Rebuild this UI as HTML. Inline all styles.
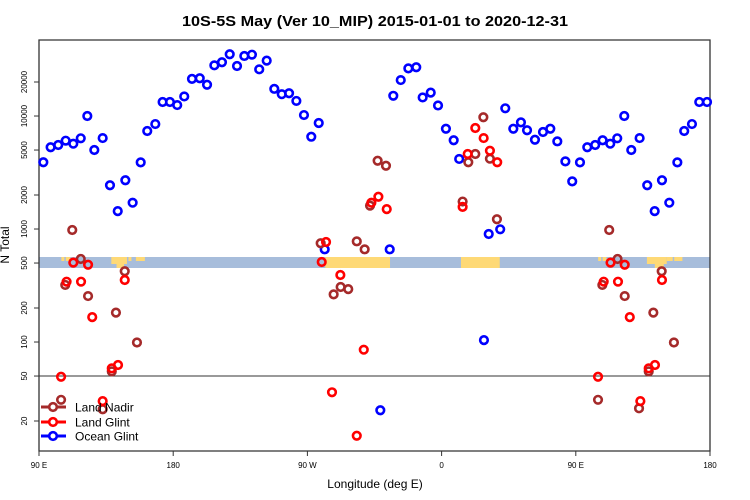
<!DOCTYPE html>
<html><head><meta charset="utf-8"><style>
html,body{margin:0;padding:0;background:#fff;}
svg{display:block;font-family:"Liberation Sans",sans-serif;}
</style></head><body>
<svg id="chart" width="750" height="500">
<text x="375" y="26" text-anchor="middle" font-size="15" font-weight="bold" textLength="386" lengthAdjust="spacingAndGlyphs">10S-5S May (Ver 10_MIP)   2015-01-01 to 2020-12-31</text>
<g id="map"></g>
<g id="axes"></g>
<g id="marks"></g>
<g id="legend"></g>
<text x="375" y="488" text-anchor="middle" font-size="12">Longitude (deg E)</text>
<text transform="translate(9,245) rotate(-90)" text-anchor="middle" font-size="12">N Total</text>
</svg>
<script>
const xTicks=[90,180,270,360,450,540];
const xTickLabels=["90 E","180","90 W","0","90 E","180"];
const yTicks=[20000,10000,5000,2000,1000,500,200,100,50,20];
const oceanLon=[92.9,97.8,102.9,107.9,113.0,118.0,122.4,127.1,132.7,137.6,142.8,147.9,152.8,158.2,162.6,168.0,172.9,177.8,182.7,187.4,192.6,197.8,202.7,207.6,212.7,217.9,222.8,227.7,232.8,237.7,242.7,247.8,252.8,257.7,262.6,267.7,272.6,277.6,281.6,318.9,325.2,327.6,332.6,337.7,343.0,347.3,352.7,357.6,362.9,368.1,371.8,388.4,391.6,399.3,402.7,408.1,413.2,417.3,422.6,428.0,432.9,437.6,443.0,447.6,452.8,457.7,463.0,468.0,473.1,477.8,482.5,487.2,492.8,497.9,502.9,507.8,512.7,518.1,522.7,527.9,532.8,538.0];
const oceanN=[3900,5290,5540,6050,5690,6350,10000,5000,6380,2440,1440,2700,1710,3890,7370,8490,13300,13300,12500,14900,21300,21600,18900,28100,29900,35200,27700,34000,34900,25900,30900,17400,15600,15900,13600,10200,6560,8670,661,24.9,661,15100,20800,26400,27000,14600,16100,12400,7720,6100,4170,104,903,994,11700,7720,8790,7480,6170,7220,7720,5970,3970,2640,3890,5290,5540,6100,5690,6350,10000,5000,6380,2440,1440,2700,1710,3890,7370,8490,13300,13300];
const nadirLon=[112.3,118.0,107.6,122.9,141.6,147.5,155.7,138.8,104.8,132.7,278.9,303.1,308.4,287.6,292.3,297.4,312.0,317.1,322.7,374.1,377.9,382.6,388.0,392.4,397.1,472.4,478.0,467.8,482.8,502.0,507.6,515.8,498.9,464.9,492.4];
const nadirN=[980,543,320,255,182,423,99,55,30.8,25.4,748,778,661,264,307,294,1610,4020,3630,1750,3900,4610,9750,4190,1220,980,543,320,255,182,423,99,55,30.8,25.9];
const glintLon=[113.0,122.9,108.5,118.2,125.7,143.0,138.8,147.5,104.8,132.7,279.6,282.5,292.1,307.8,286.5,303.1,312.9,317.6,323.2,374.1,377.5,382.6,388.2,392.4,397.3,473.3,482.8,468.7,478.3,486.2,503.1,498.9,507.8,464.9,493.3];
const glintN=[504,483,342,342,166,62.6,58.5,354,49.3,30,511,767,392,85.5,35.9,14.8,1710,1930,1500,1570,4610,7830,6380,4930,3900,504,483,342,342,166,62.6,58.5,354,49.3,30];
const landStart=[105,108,138.5,142,150,155,282,373,465,468,497.7,503,511,516];
const landEnd=[107,111,149,147,152,161,325.4,399,467,470.5,511,509,515,521.5];
const landFull=[0,0,0,1,0,0,1,1,0,0,0,1,0,0];

const NS="http://www.w3.org/2000/svg";
const L=39,R=710,T=40,B=451;
function xs(v){return L+(v-90)*(R-L)/450;}
function ys(v){return 82-(Math.log10(v)-Math.log10(20000))*113;}
function mk(tag,attrs,parent){const e=document.createElementNS(NS,tag);for(const k in attrs)e.setAttribute(k,attrs[k]);parent.appendChild(e);return e;}
const axes=document.getElementById('axes');
const map=document.getElementById('map');
const strip=mk('rect',{x:L,y:257,width:R-L,height:11,fill:'#a7bddb'},map);


landStart.forEach((s,i)=>{const full=landFull[i];
const r=mk('rect',{x:xs(s),y:257,width:xs(landEnd[i])-xs(s),height:full?11:(i===2||i===10?7:4),fill:'#fed976'},map);

});
const rl=mk('line',{x1:L,x2:R,y1:ys(50),y2:ys(50),stroke:'#333','stroke-width':1},axes);


const fr=mk('path',{d:`M${L},${T}H${R}V${B}H${L}Z`,fill:'none',stroke:'#333','stroke-width':1.3},axes);


xTicks.forEach((t,i)=>{const x=xs(t);
const tl=mk('line',{x1:x,x2:x,y1:B,y2:B+5,stroke:'#333'},axes);


const tx=mk('text',{x:x,y:B+17,'text-anchor':'middle','font-size':8},axes);tx.textContent=xTickLabels[i];

});
yTicks.forEach(t=>{const y=ys(t);
const tl=mk('line',{x1:L-5,x2:L,y1:y,y2:y,stroke:'#333'},axes);


const tx=mk('text',{transform:`translate(27,${y}) rotate(-90)`,'text-anchor':'middle','font-size':8},axes);tx.textContent=t;

});
const marks=document.getElementById('marks');
function series(lon,n,color,name){const g=mk('g',{},marks);


lon.forEach((v,i)=>{const c=mk('circle',{cx:xs(v),cy:ys(n[i]),r:3.8,fill:'none',stroke:color,'stroke-width':2.6},g);

});}
series(oceanLon,oceanN,'#0000ff','ocean-glint');
series(nadirLon,nadirN,'#a52a2a','land-nadir');
series(glintLon,glintN,'#ff0000','land-glint');
const lg=document.getElementById('legend');
[['Land Nadir','#a52a2a',407],['Land Glint','#ff0000',422],['Ocean Glint','#0000ff',436]].forEach(e=>{
const g=mk('g',{},lg);


mk('line',{x1:41,x2:66,y1:e[2],y2:e[2],stroke:e[1],'stroke-width':3},g);
mk('circle',{cx:53,cy:e[2],r:3.8,fill:'#fff',stroke:e[1],'stroke-width':2.6},g);
const t=mk('text',{x:75,y:e[2]+4.5,'font-size':12},g);t.textContent=e[0];});
</script>
</body></html>
